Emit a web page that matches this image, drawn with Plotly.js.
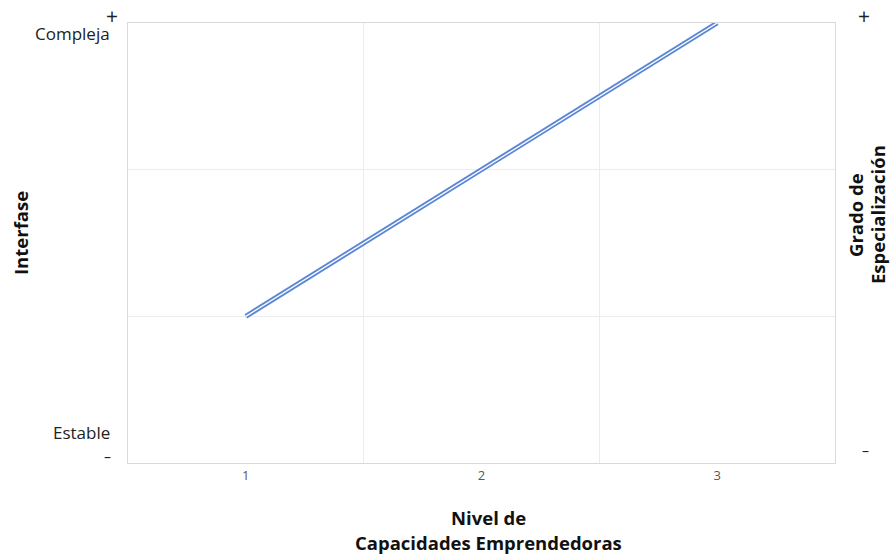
<!DOCTYPE html>
<html><head><meta charset="utf-8">
<script src="https://cdn.plot.ly/plotly-3.0.1.min.js"></script>
<style>html,body{margin:0;padding:0;background:#fff}</style>
</head><body>
<div id="chart" style="width:893px;height:556px"></div>
<script>
const categories = [1, 2, 3];
const nivel = [1, 2, 3];
const interfase = [1, 2, 3];
const xTickLabels = ["1", "2", "3"];
const yLabels = ["Estable", "Compleja"];

const font = "'Open Sans', 'Noto Sans', sans-serif";
const blue = "#5b87d5";
const tfs = 18.5;

const traces = [
  {x: nivel, y: interfase, type: "scatter", mode: "lines", line: {color: blue, width: 5}, hoverinfo: "skip", showlegend: false},
  {x: nivel, y: interfase, type: "scatter", mode: "lines", line: {color: "#ffffff", width: 1.3}, hoverinfo: "skip", showlegend: false},
  {x: [categories[0]], y: [0], xaxis: "x2", type: "scatter", mode: "markers", marker: {opacity: 0}, hoverinfo: "skip", showlegend: false}
];

function ann(o) { return Object.assign({xref: "paper", yref: "paper", showarrow: false, xanchor: "center", yanchor: "middle"}, o); }

const layout = {
  width: 893, height: 556,
  margin: {l: 128, r: 58, t: 23, b: 93},
  paper_bgcolor: "#fff", plot_bgcolor: "#fff",
  font: {family: font, color: "#222"},
  xaxis: {
    range: [0.5, 3.5], tickvals: categories, ticktext: xTickLabels,
    showgrid: false, zeroline: false, showline: true, mirror: true,
    linecolor: "#d9d9d9", linewidth: 1, ticks: "", ticklen: 0,
    tickfont: {size: 13, color: "#595959", family: font}
  },
  xaxis2: {
    overlaying: "x", range: [0.5, 3.5], tickvals: [1.5, 2.5],
    showgrid: true, gridcolor: "#ececec", gridwidth: 1,
    showticklabels: false, zeroline: false, showline: false, ticks: ""
  },
  yaxis: {
    range: [0, 3], tickvals: [1, 2], showticklabels: false,
    showgrid: true, gridcolor: "#ececec", zeroline: false,
    showline: true, mirror: true, linecolor: "#d9d9d9", ticks: ""
  },
  annotations: [
    ann({x: 0, y: 1, yshift: -10, xshift: -16, xanchor: "right", text: yLabels[1], font: {size: 17, color: "#222", family: font}}),
    ann({x: 0, y: 0, yshift: 31, xshift: -16, xanchor: "right", text: yLabels[0], font: {size: 17, color: "#222", family: font}}),
    ann({x: 0, y: 0, yshift: 7, xshift: -21, text: "–", font: {size: 14, color: "#222", family: font}}),
    ann({x: 0, y: 1, yshift: 7, xshift: -16, text: "+", font: {size: 21, color: "#222", family: font}}),
    ann({x: 1, y: 1, yshift: 7, xshift: 29, text: "+", font: {size: 21, color: "#222", family: font}}),
    ann({x: 1, y: 0, yshift: 13, xshift: 30, text: "–", font: {size: 14, color: "#222", family: font}}),
    ann({x: 0, y: 0, yshift: 230, xshift: -108, textangle: -90, text: "<b>Interfase</b>", font: {size: tfs, color: "#111", family: font}}),
    ann({x: 1, y: 0, yshift: 248, xshift: 20, textangle: -90, text: "<b>Grado de</b>", font: {size: tfs, color: "#111", family: font}}),
    ann({x: 1, y: 0, yshift: 248, xshift: 42, textangle: -90, text: "<b>Especialización</b>", font: {size: tfs, color: "#111", family: font}}),
    ann({x: 0.51, y: 0, yshift: -54, text: "<b>Nivel de</b>", font: {size: tfs, color: "#111", family: font}}),
    ann({x: 0.51, y: 0, yshift: -79, text: "<b>Capacidades Emprendedoras</b>", font: {size: tfs, color: "#111", family: font}})
  ]
};

Plotly.newPlot("chart", traces, layout, {displayModeBar: false, staticPlot: true});
</script>
</body></html>
